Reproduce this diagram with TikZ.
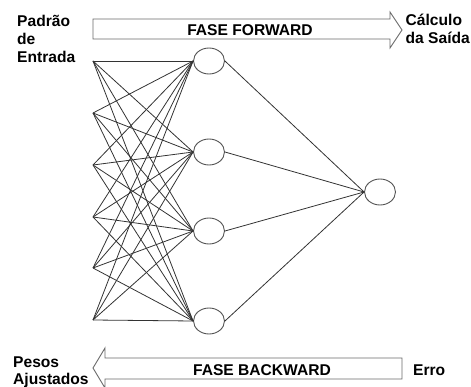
\documentclass[tikz,border=0pt]{standalone}
\usepackage{fontspec}
\setmainfont{Liberation Sans}
\usetikzlibrary{shapes.geometric}
\definecolor{linec}{HTML}{333333}
\definecolor{nodec}{HTML}{555555}
\definecolor{arrc}{HTML}{6A6A6A}
\begin{document}
\begin{tikzpicture}[x=1pt,y=-1pt,
  neuron/.style={ellipse,draw=nodec,line width=0.9pt,minimum width=31pt,minimum height=26pt,inner sep=0pt,fill=white},
  syn/.style={draw=linec,line width=0.8pt},
  bigarrow/.style={draw=arrc,line width=0.9pt,line join=miter},
  lbl/.style={font=\fontsize{15.6}{18}\selectfont\bfseries,inner sep=0pt},
]
\useasboundingbox (0,0) rectangle (471,387);
% input points
\foreach \i/\y in {1/61,2/113,3/165,4/217,5/268,6/320}{
  \coordinate (i\i) at (93,\y);
}
% hidden neurons
\node[neuron] (h1) at (209,61) {};
\node[neuron] (h2) at (209,152) {};
\node[neuron] (h3) at (209,231) {};
\node[neuron] (h4) at (209,321) {};
% output neuron
\node[neuron] (o) at (380,192) {};
% connections
\foreach \i in {1,...,6}{
  \foreach \h in {1,...,4}{
    \draw[syn] (i\i) -- (h\h.west);
  }
}
\foreach \h in {1,...,4}{
  \draw[syn] (h\h.east) -- (o.west);
}
% forward arrow
\draw[bigarrow] (93,19) -- (390,19) -- (390,12) -- (402,30) -- (390,48) -- (390,39) -- (93,39) -- cycle;
\node[lbl,anchor=base] (ff) at (250,35.5) {FASE FORWARD};
% backward arrow
\draw[bigarrow] (402,358) -- (105,358) -- (105,348) -- (93,368) -- (105,388) -- (105,379) -- (402,379) -- cycle;
\node[lbl,anchor=base] (fb) at (262,375) {FASE BACKWARD};
% labels
\node[lbl,anchor=base west] (pe1) at (17,27) {Padrão};
\node[lbl,anchor=base west] (pe2) at (17,45) {de};
\node[lbl,anchor=base west] (pe3) at (17,63) {Entrada};
\node[lbl,anchor=base west] (cs1) at (405.5,26) {Cálculo};
\node[lbl,anchor=base west] (cs2) at (405.5,44) {da Saída};
\node[lbl,anchor=base west] (er) at (413,375) {Erro};
\node[lbl,anchor=base west] (pa1) at (13,367) {Pesos};
\node[lbl,anchor=base west] (pa2) at (13,384) {Ajustados};
\end{tikzpicture}
\end{document}
